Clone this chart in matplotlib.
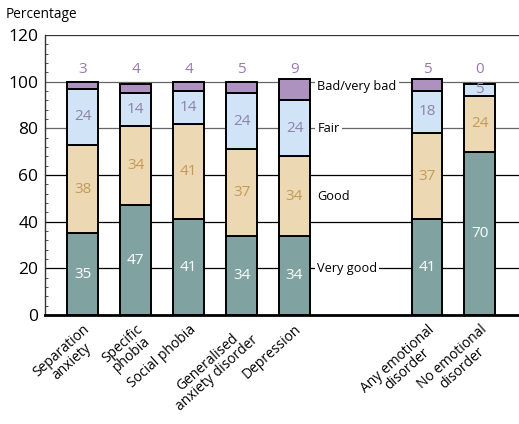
import matplotlib.pyplot as plt
import numpy as np

plt.rcParams['font.family'] = ['Open Sans', 'DejaVu Sans']

categories = ['Separation\nanxiety', 'Specific\nphobia', 'Social phobia',
              'Generalised\nanxiety disorder', 'Depression',
              'Any emotional\ndisorder', 'No emotional\ndisorder']
very_good = [35, 47, 41, 34, 34, 41, 70]
good = [38, 34, 41, 37, 34, 37, 24]
fair = [24, 14, 14, 24, 24, 18, 5]
bad = [3, 4, 4, 5, 9, 5, 0]

# gap between the single disorders and the two summary bars
xpos = np.array([0, 1, 2, 3, 4, 6.5, 7.5])
width = 0.58

fig = plt.figure(figsize=(5.19, 4.24), dpi=100)
ax = fig.add_axes([0.087, 0.257, 0.913, 0.6605])

# grid lines behind the bars
for yv, col in [(20, 'black'), (40, 'black'), (60, 'black'), (80, '#666666'), (100, '#666666'), (120, '#333333')]:
    ax.axhline(yv, color=col, lw=0.9, zorder=0)

layers = [
    (very_good, '#80a3a2', 'white'),
    (good, '#ecd8b2', '#c49a58'),
    (fair, '#d1e4f7', '#8c84a6'),
    (bad, '#ad91be', '#9a78b4'),
]
bottom = np.zeros(len(xpos))
for i, (vals, fc, tc) in enumerate(layers):
    vals = np.array(vals, dtype=float)
    ax.bar(xpos, vals, width, bottom=bottom, color=fc, edgecolor='black', lw=1.4, zorder=2)
    for x, b, v in zip(xpos, bottom, vals):
        # top layer is labelled above the bar
        ypos = 105 if i == 3 else b + v / 2
        ax.text(x, ypos, f'{int(v)}', ha='center', va='center', color=tc, fontsize=11, zorder=3)
    bottom += vals

# inline legend between Depression and Any emotional disorder
legend_items = [('Bad/very bad', 98), ('Fair', 80), ('Good', 51), ('Very good', 20)]
for name, yv in legend_items:
    ax.text(4.43, yv, name, ha='left', va='center', fontsize=9.2, zorder=3,
            bbox=dict(facecolor='white', edgecolor='none', pad=1.5))

ax.set_xlim(-0.71, 8.24)
ax.set_ylim(0, 120)
ax.set_yticks([0, 20, 40, 60, 80, 100, 120])
ax.set_yticks(np.arange(0, 121, 4), minor=True)
ax.tick_params(axis='y', which='major', length=0, labelsize=12.5, pad=5)
ax.tick_params(axis='y', which='minor', length=2, direction='in', color='#333333')
ax.set_xticks(xpos)
ax.set_xticklabels(categories, rotation=42, ha='right', rotation_mode='anchor',
                   fontsize=10, multialignment='center', linespacing=0.95)
ax.tick_params(axis='x', length=0, pad=5)

for s in ['top', 'right']:
    ax.spines[s].set_visible(False)
ax.spines['left'].set_color('#333333')
ax.spines['left'].set_linewidth(1.0)
ax.spines['bottom'].set_linewidth(2.0)

fig.text(0.01, 0.965, 'Percentage', fontsize=9.8, ha='left', va='center')

fig.savefig('out.png', dpi=100)
